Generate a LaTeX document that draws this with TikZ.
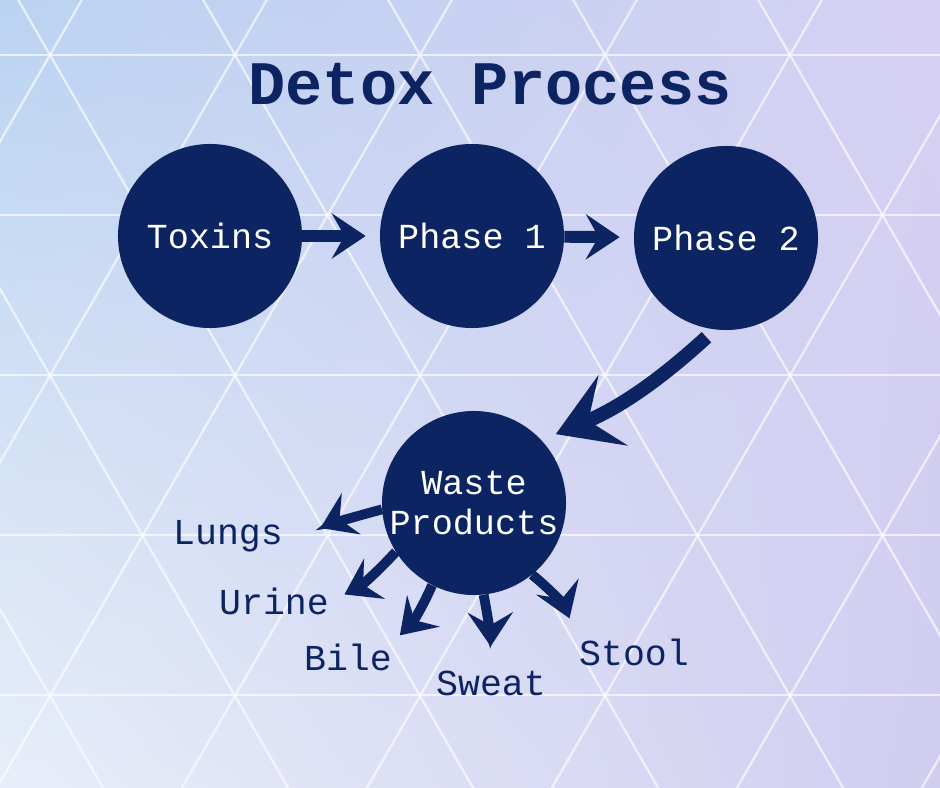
\documentclass[tikz,border=0pt]{standalone}
\usepackage{fontspec}
\usepackage{xcolor}
\usepackage{tikz}
\usetikzlibrary{
  arrows.meta,
  positioning,
  shadings
}
\newfontfamily\typewriter{Liberation Mono}
\definecolor{detoxnavy}{RGB}{12,36,97}
\definecolor{bgblue}{RGB}{186,211,241}
\definecolor{bglilac}{RGB}{214,208,243}
\definecolor{bgpale}{RGB}{232,238,249}
\definecolor{bgviolet}{RGB}{208,205,240}

\begin{document}
\begin{tikzpicture}[x=0.025cm,y=-0.025cm,
  stage/.style  ={circle,fill=detoxnavy,minimum size=4.6cm,inner sep=0pt,text=white,
                  font=\typewriter\fontsize{25}{28}\selectfont,align=center},
  outlet/.style ={text=detoxnavy,inner sep=2pt,anchor=base,
                  font=\typewriter\fontsize{26}{30}\selectfont},
  heading/.style={text=detoxnavy,anchor=base,
                  font=\typewriter\bfseries\fontsize{44}{50}\selectfont},
  flow/.style   ={-{Stealth[length=24pt,width=32pt,inset=9pt]},line width=8.5pt,
                  detoxnavy,shorten >=10pt},
  bigflow/.style={-{Stealth[length=44pt,width=54pt,inset=19pt]},line width=10pt,
                  detoxnavy,shorten <=8pt,shorten >=11pt},
  drain/.style  ={-{Stealth[length=24pt,width=32pt,inset=9pt]},line width=7pt,detoxnavy},
  gridline/.style={white,opacity=.65,line width=1.6pt},
]
\useasboundingbox (0,0) rectangle (940,788);

% background
\shade[upper left=bgblue,upper right=bglilac,lower left=bgpale,lower right=bgviolet]
  (0,0) rectangle (940,788);
\begin{scope}
  \clip (0,0) rectangle (940,788);
  \foreach \r in {-1,...,5}
    \draw[gridline] (-50,55+160*\r) -- (1000,55+160*\r);
  \foreach \c in {-4,...,9} {
    \draw[gridline] (50+185*\c,55) ++(60:-1200)  -- ++(60:2400);
    \draw[gridline] (50+185*\c,55) ++(120:-1200) -- ++(120:2400);
  }
\end{scope}

\node[heading] (title) at (490,105) {Detox Process};

\node[stage] (toxins) at (210,236) {Toxins};
\node[stage] (phase1) at (472,236) {Phase 1};
\node[stage] (phase2) at (726,238) {Phase 2};
\node[stage] (waste)  at (474,503) {Waste\\Products};

\node[outlet] (lungs) at (228,544) {Lungs};
\node[outlet] (urine) at (274,614) {Urine};
\node[outlet] (bile)  at (348,670) {Bile};
\node[outlet] (sweat) at (491,695) {Sweat};
\node[outlet] (stool) at (634,665) {Stool};

% main chain
\draw[flow]    (toxins) -- (phase1);
\draw[flow]    (phase1) -- (phase2);
\draw[bigflow] (phase2.263) to[bend left=10] (waste.43);

% ways out
\draw[drain,shorten >=27pt] (waste.184) to[bend right=5] (lungs.-8);
\draw[drain,shorten >=10pt] (waste.212) to[bend left=10] (urine.east);
\draw[drain,shorten >=5pt]  (waste.243) to[bend left=10] (bile.north east);
\draw[drain,shorten >=15pt] (waste.276) to[bend left=5]  (sweat.north);
\draw[drain,shorten >=13pt] (waste.309) to[bend left=15] (stool.north west);
\end{tikzpicture}
\end{document}
